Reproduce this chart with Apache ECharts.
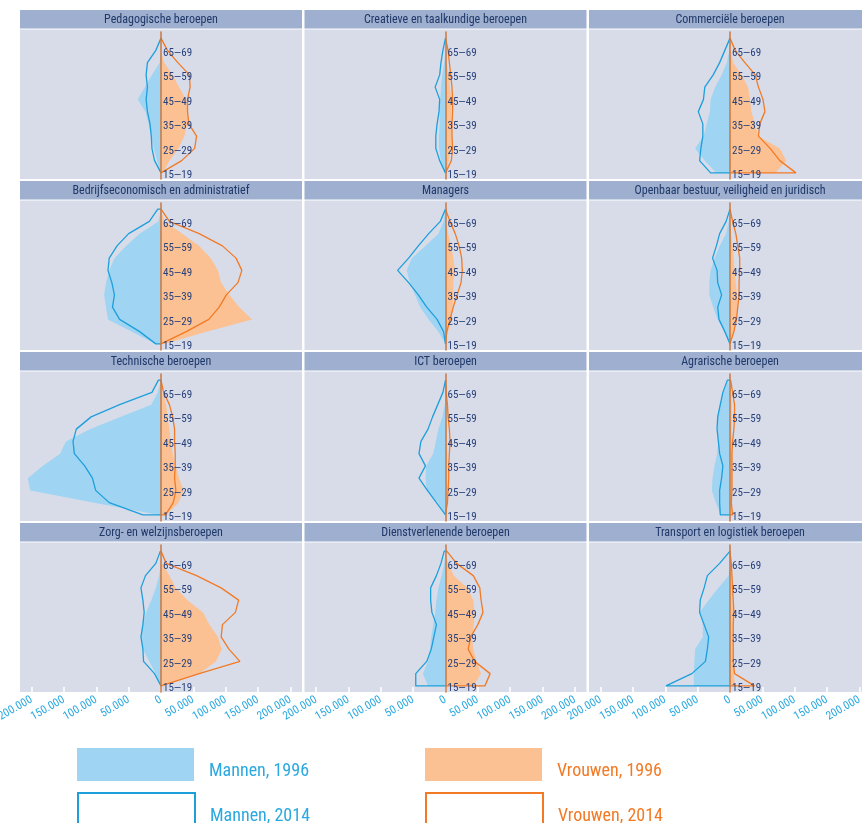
<!DOCTYPE html>
<html>
<head>
<meta charset="utf-8">
<script src="https://cdn.jsdelivr.net/npm/echarts@6/dist/echarts.min.js"></script>
<style>
html,body{margin:0;padding:0;background:#fff;}
#chart{width:862px;height:823px;}
</style>
</head>
<body>
<div id="chart"></div>
<script>
// ---- data (values in thousands of persons) ----
const AGES = ['15—19','20—24','25—29','30—34','35—39','40—44','45—49','50—54','55—59','60—64','65—69','70—74'];
const TITLES = [
  'Pedagogische beroepen','Creatieve en taalkundige beroepen','Commerciële beroepen',
  'Bedrijfseconomisch en administratief','Managers','Openbaar bestuur, veiligheid en juridisch',
  'Technische beroepen','ICT beroepen','Agrarische beroepen',
  'Zorg- en welzijnsberoepen','Dienstverlenende beroepen','Transport en logistiek beroepen'
];
const X_TICKS = [-200,-150,-100,-50,0,50,100,150,200];
const LEGEND_NAMES = ['Mannen, 1996','Vrouwen, 1996','Mannen, 2014','Vrouwen, 2014'];

// each row: age groups 15-19 ... 70-74
const MEN_1996 = [
  [1,6,11,15,19,24,36,25,14,2,0,0],
  [2,7,10,10,9,9,8,7,5,2,0,0],
  [21,39,54,41,36,31,30,23,13,5,1,0],
  [8,45,82,85,88,85,80,72,54,33,4,0],
  [0,11,26,39,47,55,60,52,31,11,3,0],
  [0,8,19,26,32,32,30,24,16,6,2,0],
  [3,103,202,206,183,156,147,110,63,15,5,0],
  [1,11,29,31,30,19,15,11,5,1,0,0],
  [14,22,28,27,24,20,18,19,20,16,10,3],
  [0,8,18,28,31,28,23,15,8,3,0,0],
  [27,35,27,24,22,19,16,14,11,6,2,0],
  [56,56,55,54,42,42,47,33,18,2,1,0]
];
const WOMEN_1996 = [
  [3,13,27,36,41,41,39,28,18,5,0,0],
  [1,5,9,9,9,9,9,7,5,2,0,0],
  [70,87,77,44,39,33,31,28,18,5,1,0],
  [5,70,141,121,106,93,88,77,59,33,5,0],
  [0,4,9,11,12,12,15,12,9,4,0,0],
  [0,6,10,12,11,9,7,6,4,2,0,0],
  [8,27,35,28,23,18,15,13,10,8,2,0],
  [0,2,3,3,3,3,2,2,1,0,0,0],
  [3,3,3,4,4,4,3,3,3,3,2,0],
  [3,59,85,94,88,75,65,41,23,13,2,0],
  [43,55,48,43,41,44,45,43,34,13,4,0],
  [8,6,6,6,6,5,5,4,3,2,1,0]
];
const MEN_2014 = [
  [2,10,14,15,17,21,23,21,23,21,8,0],
  [2,9,15,15,13,10,9,16,9,7,4,0],
  [30,47,45,42,42,49,41,39,26,16,8,0],
  [8,33,64,75,72,76,82,80,68,50,18,5],
  [0,3,13,29,42,57,74,57,42,26,8,0],
  [0,8,17,19,13,19,20,27,21,16,6,0],
  [28,80,101,106,118,134,136,131,108,64,14,4],
  [1,14,28,41,31,41,38,27,20,12,4,0],
  [15,16,16,13,11,16,18,20,19,15,11,4],
  [0,10,27,28,31,28,26,28,31,24,8,1],
  [46,46,29,22,18,14,21,23,23,14,7,2],
  [99,59,38,35,33,40,47,46,40,35,16,0]
];
const WOMEN_2014 = [
  [2,32,52,55,43,41,41,45,44,26,10,0],
  [1,9,11,10,10,11,11,10,8,6,4,0],
  [102,77,62,44,46,54,51,44,39,23,8,0],
  [3,39,74,90,101,119,125,116,95,59,13,0],
  [0,2,7,12,18,24,26,25,21,15,7,0],
  [0,6,10,12,14,14,15,15,12,9,4,0],
  [7,19,23,21,22,22,21,21,18,13,4,0],
  [1,3,4,5,5,6,7,6,4,3,1,0],
  [4,2,3,3,3,3,4,6,7,7,4,1],
  [0,59,122,105,93,95,115,120,93,55,8,0],
  [61,69,45,35,39,50,58,55,53,43,17,2],
  [38,7,5,5,5,5,6,5,4,3,2,0]
];

// ---- styling / layout ----
const FONT = "'Liberation Sans Narrow','Roboto Condensed','DejaVu Sans Condensed','Noto Sans',sans-serif";
const C_BG = '#d8dce9', C_HEAD = '#9eafcf', C_HEAD_TXT = '#1f3868', C_LABEL = '#27407a';
const C_M96 = '#9fd4f2', C_W96 = '#fbc193', C_M14 = '#1d9fdc', C_W14 = '#f27a25';
const C_TICKTXT = '#2aa9e0';
const COL_LEFT = [20, 304.5, 589], PANEL_W = 282, ROW_TOP = [10, 181, 352, 523];

const grids = [], xAxes = [], yAxes = [], series = [], graphics = [];
const fmt = v => v === 0 ? '0' : Math.abs(v) + '.000';

for (let k = 0; k < 12; k++) {
  const r = Math.floor(k / 3), c = k % 3;
  const left = COL_LEFT[c], top = ROW_TOP[r];
  const bottomRow = r === 3;
  graphics.push({type:'rect', z:-10, shape:{x:left, y:top, width:PANEL_W, height:18.5}, style:{fill:C_HEAD}, silent:true});
  graphics.push({type:'rect', z:-10, shape:{x:left, y:top+19.5, width:PANEL_W, height:149.5}, style:{fill:C_BG}, silent:true});
  graphics.push({type:'text', z:10, x:left+PANEL_W/2, y:top+9.5, silent:true,
    style:{text:TITLES[k], align:'center', verticalAlign:'middle', font:'12px ' + FONT, fill:C_HEAD_TXT}});

  grids.push({left:left, top:top+22, width:PANEL_W, height:147, containLabel:false, outerBoundsMode:'none'});
  xAxes.push({
    type:'value', gridIndex:k, min:-218, max:218,
    splitLine:{show:false}, axisLine:{show:false},
    axisTick:{show:bottomRow, inside:true, length:5, customValues:X_TICKS, lineStyle:{color:'#ffffff', width:1.5}},
    axisLabel:{show:bottomRow, customValues:X_TICKS, rotate:30, margin:7, color:C_TICKTXT,
      fontSize:11.5, fontFamily:FONT, formatter:fmt}
  });
  yAxes.push({
    type:'category', gridIndex:k, data:AGES, boundaryGap:true, z:5,
    position:'left', offset:-PANEL_W/2,
    axisLine:{show:true, onZero:false, lineStyle:{color:'#c9773f', width:1.5}},
    axisTick:{show:false}, splitLine:{show:false},
    axisLabel:{inside:true, interval:1, margin:2, color:C_LABEL, fontSize:11, lineHeight:5,
      fontFamily:FONT, formatter: v => '\n' + v}
  });
  const base = {type:'line', xAxisIndex:k, yAxisIndex:k, symbol:'none', silent:true, animation:false, smooth:false};
  series.push(Object.assign({}, base, {name:LEGEND_NAMES[0], z:2,
    data:MEN_1996[k].map((v,i)=>[-v,i]), itemStyle:{color:C_M96},
    lineStyle:{opacity:0, width:0}, areaStyle:{color:C_M96, opacity:1}}));
  series.push(Object.assign({}, base, {name:LEGEND_NAMES[1], z:2,
    data:WOMEN_1996[k].map((v,i)=>[v,i]), itemStyle:{color:C_W96},
    lineStyle:{opacity:0, width:0}, areaStyle:{color:C_W96, opacity:1}}));
  series.push(Object.assign({}, base, {name:LEGEND_NAMES[2], z:3,
    data:[[0,0]].concat(MEN_2014[k].map((v,i)=>[-v,i])).concat([[0,11]]),
    itemStyle:{color:C_M14}, lineStyle:{color:C_M14, width:1.3}}));
  series.push(Object.assign({}, base, {name:LEGEND_NAMES[3], z:4,
    data:[[0,0]].concat(WOMEN_2014[k].map((v,i)=>[v,i])).concat([[0,11]]),
    itemStyle:{color:C_W14}, lineStyle:{color:C_W14, width:1.3}}));
}

function legendFor(idx, left, top, fill, border, txt) {
  return {
    left:left, top:top, padding:0, selectedMode:false, itemWidth:117, itemHeight:33,
    data:[{name:LEGEND_NAMES[idx], icon:'rect',
      itemStyle: border ? {color:'rgba(0,0,0,0)', borderColor:border, borderWidth:2} : {color:fill, borderWidth:0}}],
    formatter: name => '\n' + name,
    textStyle:{color:txt, fontSize:18, lineHeight:13, fontFamily:FONT, padding:[0,0,0,10]}
  };
}

const chart = echarts.init(document.getElementById('chart'), null, {renderer:'canvas'});
chart.setOption({
  animation:false,
  backgroundColor:'#ffffff',
  grid:grids, xAxis:xAxes, yAxis:yAxes, series:series,
  graphic:{elements:graphics},
  legend:[
    legendFor(0, 77, 748, C_M96, null, C_TICKTXT),
    legendFor(1, 425, 748, C_W96, null, C_W14),
    legendFor(2, 77, 792, null, C_M14, C_TICKTXT),
    legendFor(3, 425, 792, null, C_W14, C_W14)
  ]
});
</script>
</body>
</html>
